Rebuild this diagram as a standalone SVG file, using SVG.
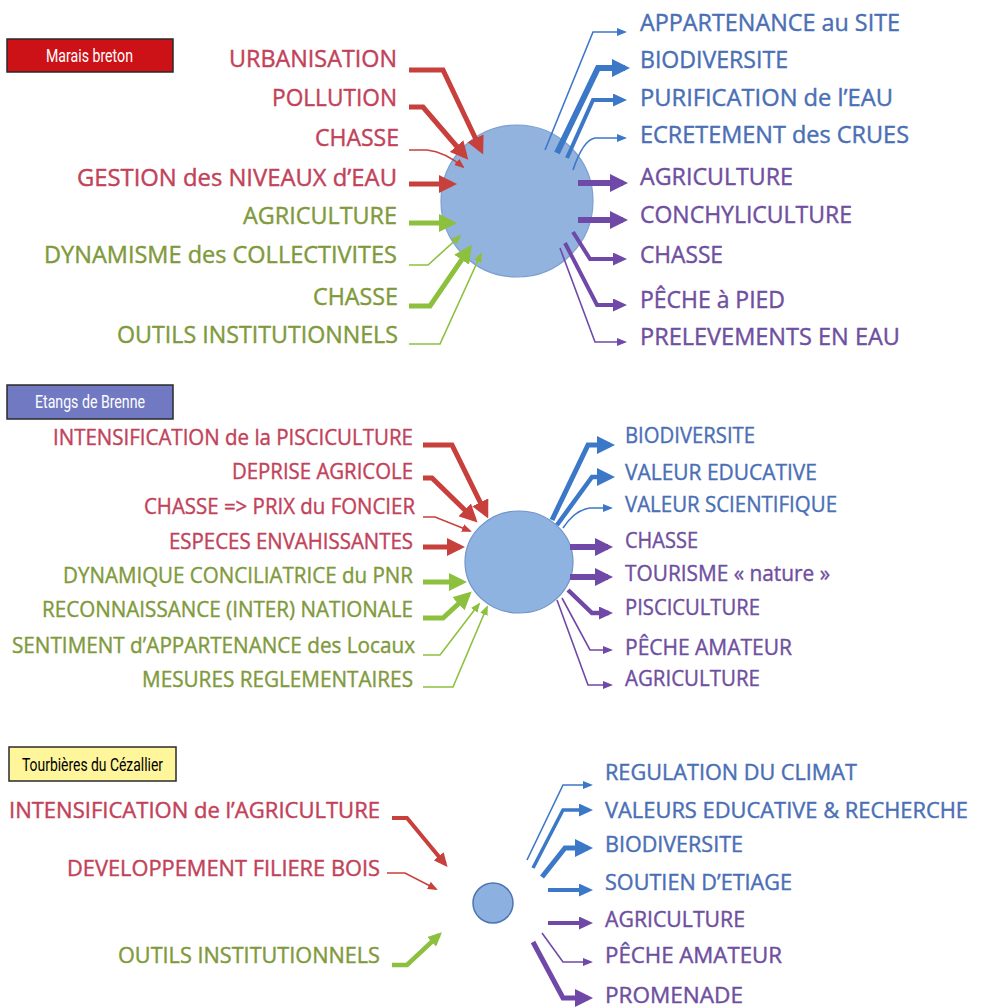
<svg xmlns="http://www.w3.org/2000/svg" width="984" height="1007" viewBox="0 0 984 1007">
<style>
text{font-family:"Open Sans",Lato,"Liberation Sans",sans-serif;stroke-width:0.4;}
.t1{font-size:23px;}
.t2{font-size:22px;}
.t3{font-size:21px;}
.r{fill:#c2425a;stroke:#c2425a;}
.g{fill:#7f9a3c;stroke:#7f9a3c;}
.b{fill:#4a6fb5;stroke:#4a6fb5;}
.p{fill:#6f4fa0;stroke:#6f4fa0;}
.lbl{font-family:Roboto,"Liberation Sans",sans-serif;font-size:18px;stroke:none;}
.box{stroke:#2a2a2a;stroke-width:1.5;}
.node{stroke-width:1.2;}
.c path{fill:none;stroke-linejoin:miter;}
.cr{stroke:#c8403c;}
.cg{stroke:#8dc03f;}
.cb{stroke:#3c78c8;}
.cp{stroke:#7048a8;}
</style>
<defs>
<marker id="rb" markerUnits="userSpaceOnUse" markerWidth="18" markerHeight="18" viewBox="0 0 18 18" refX="13" refY="9" orient="auto"><path d="M0,0L18,9L0,18z" fill="#c8403c"/></marker>
<marker id="rm" markerUnits="userSpaceOnUse" markerWidth="14" markerHeight="13" viewBox="0 0 14 13" refX="10" refY="6.5" orient="auto"><path d="M0,0L14,6.5L0,13z" fill="#c8403c"/></marker>
<marker id="rs" markerUnits="userSpaceOnUse" markerWidth="10" markerHeight="8" viewBox="0 0 10 8" refX="8" refY="4" orient="auto"><path d="M0,0L10,4L0,8z" fill="#c8403c"/></marker>
<marker id="gb" markerUnits="userSpaceOnUse" markerWidth="18" markerHeight="18" viewBox="0 0 18 18" refX="13" refY="9" orient="auto"><path d="M0,0L18,9L0,18z" fill="#8dc03f"/></marker>
<marker id="gm" markerUnits="userSpaceOnUse" markerWidth="14" markerHeight="13" viewBox="0 0 14 13" refX="10" refY="6.5" orient="auto"><path d="M0,0L14,6.5L0,13z" fill="#8dc03f"/></marker>
<marker id="gs" markerUnits="userSpaceOnUse" markerWidth="10" markerHeight="8" viewBox="0 0 10 8" refX="8" refY="4" orient="auto"><path d="M0,0L10,4L0,8z" fill="#8dc03f"/></marker>
<marker id="bb" markerUnits="userSpaceOnUse" markerWidth="18" markerHeight="18" viewBox="0 0 18 18" refX="13" refY="9" orient="auto"><path d="M0,0L18,9L0,18z" fill="#3c78c8"/></marker>
<marker id="bm" markerUnits="userSpaceOnUse" markerWidth="14" markerHeight="13" viewBox="0 0 14 13" refX="10" refY="6.5" orient="auto"><path d="M0,0L14,6.5L0,13z" fill="#3c78c8"/></marker>
<marker id="bs" markerUnits="userSpaceOnUse" markerWidth="10" markerHeight="8" viewBox="0 0 10 8" refX="8" refY="4" orient="auto"><path d="M0,0L10,4L0,8z" fill="#3c78c8"/></marker>
<marker id="pb" markerUnits="userSpaceOnUse" markerWidth="18" markerHeight="18" viewBox="0 0 18 18" refX="13" refY="9" orient="auto"><path d="M0,0L18,9L0,18z" fill="#7048a8"/></marker>
<marker id="pm" markerUnits="userSpaceOnUse" markerWidth="14" markerHeight="13" viewBox="0 0 14 13" refX="10" refY="6.5" orient="auto"><path d="M0,0L14,6.5L0,13z" fill="#7048a8"/></marker>
<marker id="ps" markerUnits="userSpaceOnUse" markerWidth="10" markerHeight="8" viewBox="0 0 10 8" refX="8" refY="4" orient="auto"><path d="M0,0L10,4L0,8z" fill="#7048a8"/></marker>
</defs>
<rect width="984" height="1007" fill="#ffffff"/>

<!-- Section 1: Marais breton -->
<g id="title-marais">
<rect class="box" x="7" y="39" width="166" height="33" fill="#cc1117"/>
<text class="lbl" x="46" y="62" textLength="87" lengthAdjust="spacingAndGlyphs" fill="#ffffff">Marais breton</text>
</g>
<g id="hub-marais"><circle class="node" cx="517" cy="201" r="76" fill="#92b3dd" stroke="#7b9fd0"/></g>
<g id="m-l1"><text class="t1 r" x="229" y="67" textLength="168" lengthAdjust="spacingAndGlyphs">URBANISATION</text></g>
<g id="m-l2"><text class="t1 r" x="272" y="106" textLength="125" lengthAdjust="spacingAndGlyphs">POLLUTION</text></g>
<g id="m-l3"><text class="t1 r" x="315" y="146" textLength="84" lengthAdjust="spacingAndGlyphs">CHASSE</text></g>
<g id="m-l4"><text class="t1 r" x="77" y="186" textLength="320" lengthAdjust="spacingAndGlyphs">GESTION des NIVEAUX d’EAU</text></g>
<g id="m-l5"><text class="t1 g" x="243" y="224" textLength="154" lengthAdjust="spacingAndGlyphs">AGRICULTURE</text></g>
<g id="m-l6"><text class="t1 g" x="44" y="263" textLength="353" lengthAdjust="spacingAndGlyphs">DYNAMISME des COLLECTIVITES</text></g>
<g id="m-l7"><text class="t1 g" x="313" y="305" textLength="85" lengthAdjust="spacingAndGlyphs">CHASSE</text></g>
<g id="m-l8"><text class="t1 g" x="117" y="343" textLength="281" lengthAdjust="spacingAndGlyphs">OUTILS INSTITUTIONNELS</text></g>
<g id="m-r1"><text class="t1 b" x="640" y="31" textLength="260" lengthAdjust="spacingAndGlyphs">APPARTENANCE au SITE</text></g>
<g id="m-r2"><text class="t1 b" x="640" y="68" textLength="148" lengthAdjust="spacingAndGlyphs">BIODIVERSITE</text></g>
<g id="m-r3"><text class="t1 b" x="640" y="106" textLength="253" lengthAdjust="spacingAndGlyphs">PURIFICATION de l’EAU</text></g>
<g id="m-r4"><text class="t1 b" x="640" y="143" textLength="269" lengthAdjust="spacingAndGlyphs">ECRETEMENT des CRUES</text></g>
<g id="m-r5"><text class="t1 p" x="640" y="185" textLength="153" lengthAdjust="spacingAndGlyphs">AGRICULTURE</text></g>
<g id="m-r6"><text class="t1 p" x="640" y="223" textLength="212" lengthAdjust="spacingAndGlyphs">CONCHYLICULTURE</text></g>
<g id="m-r7"><text class="t1 p" x="640" y="263" textLength="83" lengthAdjust="spacingAndGlyphs">CHASSE</text></g>
<g id="m-r8"><text class="t1 p" x="640" y="308" textLength="145" lengthAdjust="spacingAndGlyphs">PÊCHE à PIED</text></g>
<g id="m-r9"><text class="t1 p" x="640" y="345" textLength="260" lengthAdjust="spacingAndGlyphs">PRELEVEMENTS EN EAU</text></g>

<!-- Section 2: Etangs de Brenne -->
<g id="title-brenne">
<rect class="box" x="7" y="385" width="166" height="34" fill="#7079c2"/>
<text class="lbl" x="35" y="408" textLength="110" lengthAdjust="spacingAndGlyphs" fill="#ffffff">Etangs de Brenne</text>
</g>
<g id="hub-brenne"><ellipse class="node" cx="519" cy="562" rx="54" ry="51" fill="#8fb3e0" stroke="#6e93c9"/></g>
<g id="b-l1"><text class="t2 r" x="53" y="445" textLength="360" lengthAdjust="spacingAndGlyphs">INTENSIFICATION de la PISCICULTURE</text></g>
<g id="b-l2"><text class="t2 r" x="232" y="479" textLength="181" lengthAdjust="spacingAndGlyphs">DEPRISE AGRICOLE</text></g>
<g id="b-l3"><text class="t2 r" x="144" y="514" textLength="271" lengthAdjust="spacingAndGlyphs">CHASSE =&gt; PRIX du FONCIER</text></g>
<g id="b-l4"><text class="t2 r" x="169" y="549" textLength="244" lengthAdjust="spacingAndGlyphs">ESPECES ENVAHISSANTES</text></g>
<g id="b-l5"><text class="t2 g" x="63" y="583" textLength="350" lengthAdjust="spacingAndGlyphs">DYNAMIQUE CONCILIATRICE du PNR</text></g>
<g id="b-l6"><text class="t2 g" x="42" y="617" textLength="371" lengthAdjust="spacingAndGlyphs">RECONNAISSANCE (INTER) NATIONALE</text></g>
<g id="b-l7"><text class="t2 g" x="12" y="653" textLength="403" lengthAdjust="spacingAndGlyphs">SENTIMENT d’APPARTENANCE des Locaux</text></g>
<g id="b-l8"><text class="t2 g" x="142" y="687" textLength="271" lengthAdjust="spacingAndGlyphs">MESURES REGLEMENTAIRES</text></g>
<g id="b-r1"><text class="t2 b" x="625" y="443" textLength="130" lengthAdjust="spacingAndGlyphs">BIODIVERSITE</text></g>
<g id="b-r2"><text class="t2 b" x="625" y="480" textLength="192" lengthAdjust="spacingAndGlyphs">VALEUR EDUCATIVE</text></g>
<g id="b-r3"><text class="t2 b" x="625" y="512" textLength="212" lengthAdjust="spacingAndGlyphs">VALEUR SCIENTIFIQUE</text></g>
<g id="b-r4"><text class="t2 p" x="625" y="548" textLength="73" lengthAdjust="spacingAndGlyphs">CHASSE</text></g>
<g id="b-r5"><text class="t2 p" x="625" y="581" textLength="205" lengthAdjust="spacingAndGlyphs">TOURISME « nature »</text></g>
<g id="b-r6"><text class="t2 p" x="625" y="615" textLength="135" lengthAdjust="spacingAndGlyphs">PISCICULTURE</text></g>
<g id="b-r7"><text class="t2 p" x="625" y="655" textLength="167" lengthAdjust="spacingAndGlyphs">PÊCHE AMATEUR</text></g>
<g id="b-r8"><text class="t2 p" x="625" y="686" textLength="135" lengthAdjust="spacingAndGlyphs">AGRICULTURE</text></g>

<!-- Section 3: Tourbières du Cézallier -->
<g id="title-cezallier">
<rect class="box" x="9" y="747" width="167" height="34" fill="#fff59b"/>
<text class="lbl" x="22" y="771" textLength="141" lengthAdjust="spacingAndGlyphs" fill="#000000">Tourbières du Cézallier</text>
</g>
<g id="hub-cezallier"><circle cx="493" cy="903" r="20" fill="#8cb1e0" stroke="#4d74b4" stroke-width="1.5"/></g>
<g id="c-l1"><text class="t3 r" x="9" y="818" textLength="371" lengthAdjust="spacingAndGlyphs">INTENSIFICATION de l’AGRICULTURE</text></g>
<g id="c-l2"><text class="t3 r" x="67" y="876" textLength="313" lengthAdjust="spacingAndGlyphs">DEVELOPPEMENT FILIERE BOIS</text></g>
<g id="c-l3"><text class="t3 g" x="118" y="963" textLength="262" lengthAdjust="spacingAndGlyphs">OUTILS INSTITUTIONNELS</text></g>
<g id="c-r1"><text class="t3 b" x="605" y="780" textLength="252" lengthAdjust="spacingAndGlyphs">REGULATION DU CLIMAT</text></g>
<g id="c-r2"><text class="t3 b" x="605" y="818" textLength="363" lengthAdjust="spacingAndGlyphs">VALEURS EDUCATIVE &amp; RECHERCHE</text></g>
<g id="c-r3"><text class="t3 b" x="605" y="852" textLength="138" lengthAdjust="spacingAndGlyphs">BIODIVERSITE</text></g>
<g id="c-r4"><text class="t3 b" x="605" y="890" textLength="187" lengthAdjust="spacingAndGlyphs">SOUTIEN D’ETIAGE</text></g>
<g id="c-r5"><text class="t3 p" x="605" y="927" textLength="140" lengthAdjust="spacingAndGlyphs">AGRICULTURE</text></g>
<g id="c-r6"><text class="t3 p" x="605" y="963" textLength="177" lengthAdjust="spacingAndGlyphs">PÊCHE AMATEUR</text></g>
<g id="c-r7"><text class="t3 p" x="605" y="1003" textLength="138" lengthAdjust="spacingAndGlyphs">PROMENADE</text></g>

<g id="connectors" class="c">
<!-- section 1 inputs -->
<path class="cr" stroke-width="5" d="M409,70H443L481,150" marker-end="url(#rb)"/>
<path class="cr" stroke-width="5" d="M409,107H423L465,156" marker-end="url(#rb)"/>
<path class="cr" stroke-width="1.6" d="M409,150H427Q445,152 463,167" marker-end="url(#rs)"/>
<path class="cr" stroke-width="5" d="M409,184H452" marker-end="url(#rb)"/>
<path class="cg" stroke-width="5" d="M409,223H452" marker-end="url(#gb)"/>
<path class="cg" stroke-width="1.6" d="M409,265H428L460,236" marker-end="url(#gs)"/>
<path class="cg" stroke-width="5" d="M409,306H430L469,249" marker-end="url(#gb)"/>
<path class="cg" stroke-width="1.6" d="M409,344H440L481,254" marker-end="url(#gs)"/>
<!-- section 1 outputs -->
<path class="cb" stroke-width="1.6" d="M545,150L593,32H625" marker-end="url(#bs)"/>
<path class="cb" stroke-width="6" d="M557,153L598,68H625" marker-end="url(#bb)"/>
<path class="cb" stroke-width="4" d="M567,158L593,100H623" marker-end="url(#bm)"/>
<path class="cb" stroke-width="1.6" d="M573,170Q583,140 595,138H625" marker-end="url(#bs)"/>
<path class="cp" stroke-width="6" d="M578,183H623" marker-end="url(#pb)"/>
<path class="cp" stroke-width="6" d="M578,220H623" marker-end="url(#pb)"/>
<path class="cp" stroke-width="4" d="M573,232L590,259H623" marker-end="url(#pm)"/>
<path class="cp" stroke-width="4" d="M565,243L597,305H623" marker-end="url(#pm)"/>
<path class="cp" stroke-width="1.6" d="M560,248L595,342H625" marker-end="url(#ps)"/>
<!-- section 2 inputs -->
<path class="cr" stroke-width="5" d="M423,445H452L486,514" marker-end="url(#rb)"/>
<path class="cr" stroke-width="5" d="M423,478H432L474,519" marker-end="url(#rb)"/>
<path class="cr" stroke-width="1.6" d="M423,517H435L470,531" marker-end="url(#rs)"/>
<path class="cr" stroke-width="5" d="M423,547H460" marker-end="url(#rb)"/>
<path class="cg" stroke-width="5" d="M423,582H462" marker-end="url(#gb)"/>
<path class="cg" stroke-width="5" d="M423,618H443L468,595" marker-end="url(#gb)"/>
<path class="cg" stroke-width="1.6" d="M423,655H440L479,604" marker-end="url(#gs)"/>
<path class="cg" stroke-width="1.6" d="M423,687H453L487,607" marker-end="url(#gs)"/>
<!-- section 2 outputs -->
<path class="cb" stroke-width="5" d="M552,520L588,445H610" marker-end="url(#bb)"/>
<path class="cb" stroke-width="4.5" d="M557,525L592,477H610" marker-end="url(#bb)"/>
<path class="cb" stroke-width="1.6" d="M563,528Q575,510 590,508H611" marker-end="url(#bs)"/>
<path class="cp" stroke-width="6" d="M570,547H608" marker-end="url(#pb)"/>
<path class="cp" stroke-width="6" d="M570,577H608" marker-end="url(#pb)"/>
<path class="cp" stroke-width="4.5" d="M568,590L592,613H609" marker-end="url(#pm)"/>
<path class="cp" stroke-width="1.6" d="M562,598L590,650H611" marker-end="url(#ps)"/>
<path class="cp" stroke-width="1.6" d="M557,600L588,685H611" marker-end="url(#ps)"/>
<!-- section 3 inputs -->
<path class="cr" stroke-width="4" d="M392,818H407L445,864" marker-end="url(#rm)"/>
<path class="cr" stroke-width="1.6" d="M387,873H405L436,889" marker-end="url(#rs)"/>
<path class="cg" stroke-width="4.5" d="M392,965H407L439,935" marker-end="url(#gm)"/>
<!-- section 3 outputs -->
<path class="cb" stroke-width="1.6" d="M527,860L563,785H591" marker-end="url(#bs)"/>
<path class="cb" stroke-width="3.5" d="M533,868L563,810H589" marker-end="url(#bm)"/>
<path class="cb" stroke-width="5" d="M542,877L565,848H588" marker-end="url(#bb)"/>
<path class="cb" stroke-width="4" d="M548,890H589" marker-end="url(#bm)"/>
<path class="cp" stroke-width="4" d="M548,923H589" marker-end="url(#pm)"/>
<path class="cp" stroke-width="1.6" d="M542,933L563,962H591" marker-end="url(#ps)"/>
<path class="cp" stroke-width="5" d="M533,942L563,998H588" marker-end="url(#pb)"/>
</g>
</svg>
